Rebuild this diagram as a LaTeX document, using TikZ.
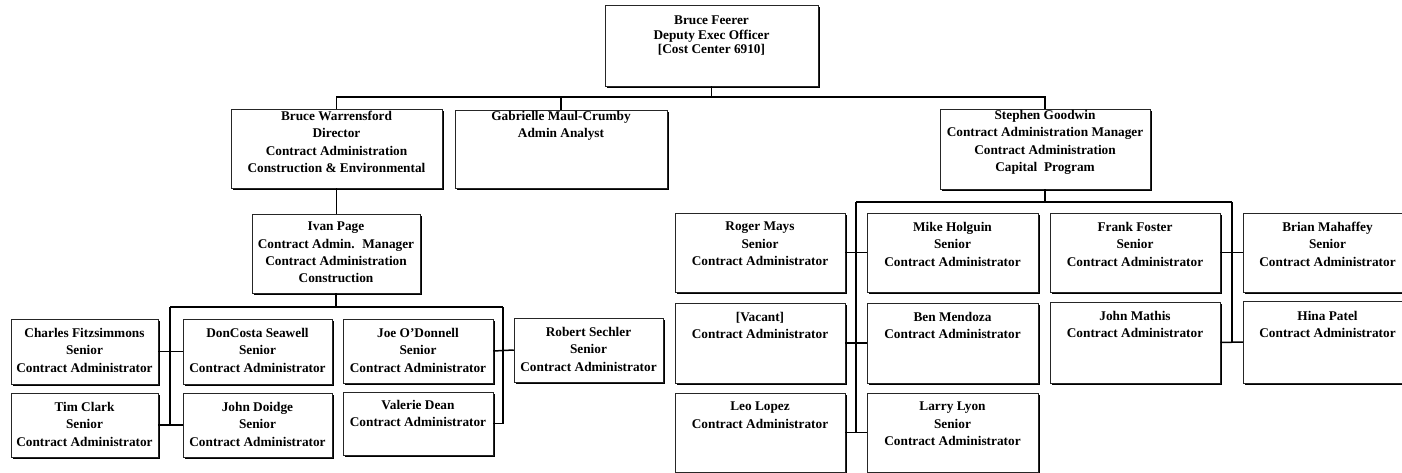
\documentclass[tikz,border=0pt]{standalone}
\usepackage{fontspec}
\setmainfont{Liberation Serif}
\tikzset{
  orgbox/.style={draw=black!85, line width=0.5pt, fill=white, inner sep=0pt},
  orgshadow/.style={fill=black},
  orgtext/.style={anchor=north, align=center, inner sep=0pt,
    font=\bfseries\fontsize{13.3}{17.3}\selectfont},
  toptext/.style={font=\bfseries\fontsize{13.3}{14.5}\selectfont},
  conn/.style={line width=1.5pt, draw=black}
}
\newcommand\obox[8][]{%
  \fill[orgshadow] ({#3+1.7},{#4+1.7}) rectangle ({#5+1.7},{#6+1.7});
  \node[orgbox, minimum width={(#5-#3)*1pt}, minimum height={(#6-#4)*1pt}] (#2) at ({(#3+#5)/2},{(#4+#6)/2}) {};
  \node[orgtext,#1] (#2-t) at ({(#3+#5)/2},#7) {#8};
}
\begin{document}
\begin{tikzpicture}[x=1pt,y=-1pt]
\fill[white] (0,0) rectangle (1402,473);
\clip (0,0) rectangle (1402,473);
% top
\obox[toptext]{feerer}{605}{5}{818}{86}{16}{Bruce Feerer\\Deputy Exec Officer\\{[}Cost Center 6910{]}}
\obox{warr}{231}{109}{442}{188}{111}{Bruce Warrensford\\Director\\Contract Administration\\Construction \& Environmental}
\obox{gab}{455}{110}{667}{188}{111}{Gabrielle Maul-Crumby\\Admin Analyst}
\obox{good}{940}{109}{1150}{189}{110}{Stephen Goodwin\\Contract Administration Manager\\Contract Administration\\Capital~ Program}
% left group
\obox{ivan}{252}{214}{420}{293}{222}{Ivan Page\\Contract Admin.~ Manager\\Contract Administration\\Construction}
\obox{charles}{11}{319}{158}{384}{328}{Charles Fitzsimmons\\Senior\\Contract Administrator}
\obox{tim}{11}{393}{158}{457}{402}{Tim Clark\\Senior\\Contract Administrator}
\obox{doncosta}{183}{319}{332}{384}{328}{DonCosta Seawell\\Senior\\Contract Administrator}
\obox{doidge}{183}{393}{332}{457}{402}{John Doidge\\Senior\\Contract Administrator}
\obox{joe}{343}{319}{493}{383}{328}{Joe O'Donnell\\Senior\\Contract Administrator}
\obox{valerie}{343}{392}{493}{455}{400}{Valerie Dean\\Contract Administrator}
\obox{robert}{514}{318}{663}{382}{327}{Robert Sechler\\Senior\\Contract Administrator}
% right group
\obox{roger}{675}{213}{845}{292}{222}{Roger Mays\\Senior\\Contract Administrator}
\obox{mike}{867}{213}{1038}{292}{222}{Mike Holguin\\Senior\\Contract Administrator}
\obox{frank}{1050}{213}{1220}{292}{222}{Frank Foster\\Senior\\Contract Administrator}
\obox{brian}{1243}{213}{1412}{292}{222}{Brian Mahaffey\\Senior\\Contract Administrator}
\obox{vacant}{675}{303}{845}{383}{312}{{[}Vacant{]}\\Contract Administrator}
\obox{ben}{867}{303}{1038}{383}{312}{Ben Mendoza\\Contract Administrator}
\obox{mathis}{1050}{302}{1220}{383}{311}{John Mathis\\Contract Administrator}
\obox{hina}{1243}{301}{1412}{383}{311}{Hina Patel\\Contract Administrator}
\obox{leo}{675}{393}{845}{472}{402}{Leo Lopez\\Contract Administrator}
\obox{larry}{867}{393}{1038}{472}{402}{Larry Lyon\\Senior\\Contract Administrator}
% connectors top
\coordinate (topbus) at (712,97);
\draw[conn] (feerer.south) -- (feerer.south |- topbus);
\draw[conn] (warr.north) -- (warr.north |- topbus) -| (good.north);
\draw[conn] (gab.north) -- (gab.north |- topbus);
% left group connectors
\draw[conn] (warr.south) -- (warr.south |- ivan.north);
\coordinate (lbusL) at (170,307);
\coordinate (lbusR) at (503,307);
\draw[conn] (ivan.south) -- (ivan.south |- lbusL);
\draw[conn] (lbusL) -- (lbusR);
\draw[conn] (lbusL) |- (tim.east);
\draw[conn] (tim.east) -- (doidge.west);
\draw[conn] (charles.east) -- (doncosta.west);
\draw[conn] (lbusR) |- (valerie.east);
\draw[conn] (joe.east) -- (robert.west);
% right group connectors
\coordinate (rbusL) at (856,202);
\coordinate (rbusR) at (1232,202);
\draw[conn] (good.south) -- (good.south |- rbusL);
\draw[conn] (rbusL) -- (rbusR);
\draw[conn] (rbusL) -- (rbusL |- leo.east);
\draw[conn] (roger.east) -- (mike.west);
\draw[conn] (vacant.east) -- (ben.west);
\draw[conn] (leo.east) -- (larry.west);
\draw[conn] (rbusR) -- (rbusR |- mathis.east);
\draw[conn] (frank.east) -- (brian.west);
\draw[conn] (mathis.east) -- (hina.west);
\end{tikzpicture}
\end{document}
